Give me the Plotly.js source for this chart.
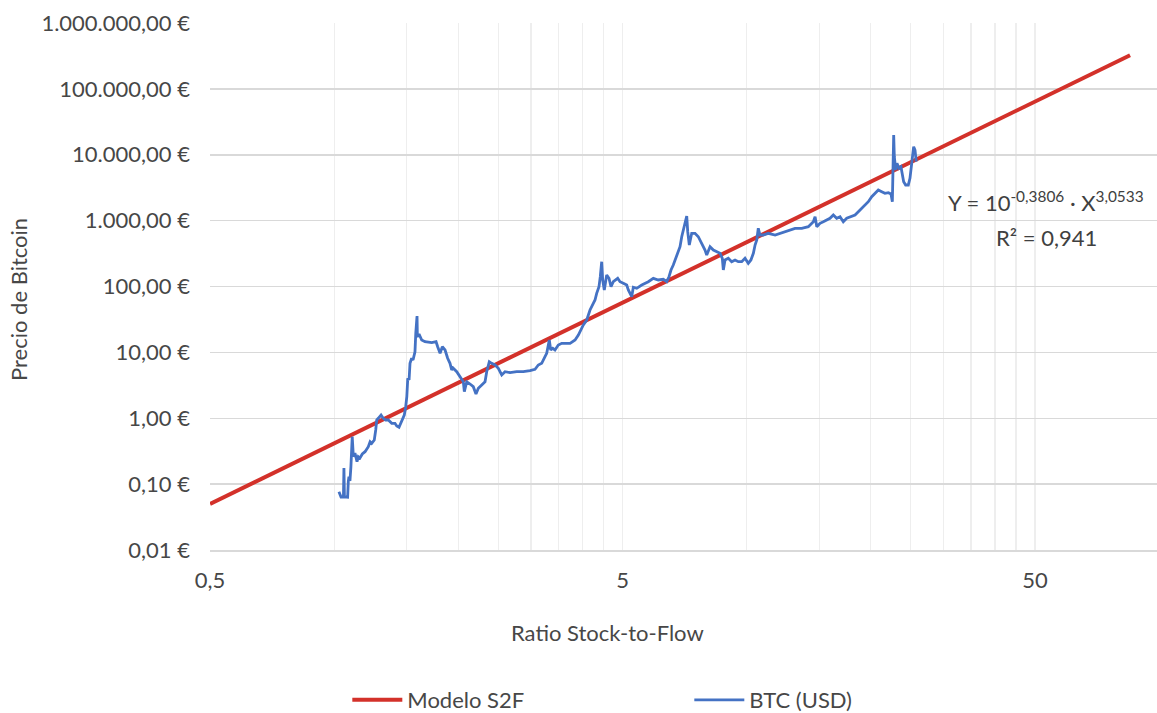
<!DOCTYPE html>
<html>
<head>
<meta charset="utf-8">
<script src="https://cdn.plot.ly/plotly-3.0.1.min.js"></script>
<style>
  html, body { margin: 0; padding: 0; background: #ffffff; }
  #chart { width: 1157px; height: 713px; }
</style>
</head>
<body>
<div id="chart"></div>
<script>
// Stock-to-Flow regression: log10(price) = a + b * log10(S2F)
const modelLogIntercept = -0.3806;
const modelExponent = 3.0533;
const modelS2F = [0.5, 85];

// Historical BTC price (USD) against its Stock-to-Flow ratio
const btcS2F = [
  1.027, 1.039, 1.053, 1.056, 1.059, 1.078, 1.082, 1.086, 1.092, 1.098,
  1.106, 1.113, 1.123, 1.136, 1.144, 1.155, 1.170, 1.188, 1.210, 1.222,
  1.233, 1.251, 1.261, 1.268, 1.279, 1.299, 1.315, 1.333, 1.353, 1.379,
  1.404, 1.418, 1.436, 1.458, 1.479, 1.491, 1.500, 1.508, 1.519, 1.527,
  1.541, 1.553, 1.570, 1.577, 1.582, 1.588, 1.591, 1.606, 1.630, 1.660,
  1.724, 1.766, 1.782, 1.806, 1.829, 1.857, 1.884, 1.909, 1.927, 1.941,
  1.982, 2.019, 2.056, 2.068, 2.096, 2.135, 2.174, 2.207, 2.236, 2.279,
  2.321, 2.343, 2.377, 2.409, 2.455, 2.500, 2.548, 2.595, 2.669, 2.770,
  2.874, 2.984, 3.068, 3.125, 3.185, 3.244, 3.275, 3.323, 3.349, 3.387,
  3.430, 3.494, 3.562, 3.731, 3.837, 3.908, 4.018, 4.095, 4.171, 4.248,
  4.289, 4.329, 4.385, 4.417, 4.452, 4.477, 4.517, 4.578, 4.637, 4.689,
  4.750, 4.868, 4.931, 5.022, 5.119, 5.165, 5.264, 5.311, 5.413, 5.567,
  5.775, 5.938, 6.106, 6.279, 6.400, 6.482, 6.555, 6.639, 6.767, 6.893,
  6.959, 7.021, 7.060, 7.116, 7.156, 7.196, 7.260, 7.358, 7.495, 7.634,
  7.781, 7.925, 8.001, 8.150, 8.302, 8.461, 8.618, 8.729, 8.778, 8.862,
  9.024, 9.197, 9.370, 9.544, 9.727, 9.907, 10.09, 10.24, 10.38, 10.48,
  10.58, 10.67, 10.77, 10.97, 11.28, 11.72, 12.16, 12.62, 13.10, 13.60,
  14.11, 14.51, 14.65, 14.79, 15.06, 15.34, 15.63, 15.92, 16.22, 16.53,
  16.84, 17.15, 17.48, 17.81, 18.31, 18.83, 19.36, 19.72, 20.10, 20.47,
  20.85, 21.25, 21.64, 22.05, 22.38, 22.55, 22.63, 22.72, 22.80, 22.98,
  23.14, 23.40, 23.66, 23.84, 24.02, 24.29, 24.65, 24.88, 25.02, 25.20,
  25.40, 25.59, 25.77
];
const btcPrice = [
  0.0767, 0.0638, 0.0638, 0.1757, 0.0638, 0.0631, 0.1088, 0.1296, 0.1115, 0.1839,
  0.5247, 0.2609, 0.2970, 0.2190, 0.2609, 0.2492, 0.2867, 0.3107, 0.3700, 0.4406,
  0.4166, 0.4675, 0.6634, 0.9407, 0.998, 1.121, 0.998, 0.9407, 0.9407, 0.838,
  0.838, 0.7627, 0.729, 0.8862, 1.121, 1.497, 2.124, 4.042, 3.808, 6.826,
  8.132, 7.661, 10.24, 19.48, 31.0, 35.67, 17.30, 19.01, 15.41, 14.52,
  14.03, 14.52, 12.20, 9.68, 12.20, 10.87, 8.132, 6.826, 5.401, 5.791,
  5.089, 4.273, 3.587, 2.530, 3.587, 3.311, 3.013, 2.334, 2.849, 3.197,
  3.587, 5.089, 7.219, 6.826, 6.434, 5.733, 4.535, 5.089, 4.914, 5.089,
  5.089, 5.270, 5.535, 6.434, 6.826, 8.598, 9.68, 15.41, 10.87, 11.53,
  10.87, 12.94, 13.73, 13.73, 15.41, 18.35, 26.04, 31.0, 43.98, 55.59,
  62.40, 78.86, 99.3, 140.8, 237.9, 125.5, 88.5, 149.5, 133.2, 99.3,
  118.3, 133.2, 118.3, 111.8, 105.4, 88.5, 70.0, 97.3, 93.9, 105.4,
  118.3, 133.2, 125.5, 128.6, 118.3, 140.8, 178.1, 212.1, 283.5, 402.1,
  570.2, 720.6, 858.3, 1022, 1175, 678.9, 426.6, 642.0, 642.0, 570.2,
  452.7, 358.2, 300.8, 402.1, 358.2, 337.6, 319.2, 268.0, 178.1, 252.6,
  268.0, 237.9, 252.6, 237.9, 237.9, 268.0, 225.0, 252.6, 319.2, 426.6,
  508.0, 764.8, 605.0, 605.0, 642.0, 605.0, 655.5, 720.6, 764.8, 764.8,
  808.8, 963.2, 1147, 808.8, 910.7, 963.2, 1022, 1085, 1217, 1085,
  1147, 963.2, 1085, 1147, 1217, 1450, 1727, 1938, 2308, 2599,
  2917, 2749, 2599, 2654, 2536, 1938, 10520, 19950, 9341, 5868,
  7417, 6228, 6585, 5229, 3898, 3474, 3474, 4390, 6228, 9341,
  13260, 11810, 7844
];

// Axis ticks (every gridline position; only decade steps carry a label)
const xTickVals = [0.5, 1, 1.5, 2, 2.5, 3, 3.5, 4, 4.5, 5, 10, 15, 20, 25, 30, 35, 40, 45, 50];
const xTickText = ['0,5', '', '', '', '', '', '', '', '', '5', '', '', '', '', '', '', '', '', '50'];
const yTickVals = [0.01, 0.1, 1, 10, 100, 1000, 10000, 100000, 1000000];
const yTickText = ['0,01 €', '0,10 €', '1,00 €', '10,00 €', '100,00 €', '1.000,00 €',
                   '10.000,00 €', '100.000,00 €', '1.000.000,00 €'];

const modelPrice = modelS2F.map(x => Math.pow(10, modelLogIntercept) * Math.pow(x, modelExponent));

const FONT = 'Lato, "Open Sans", sans-serif';
const TEXT = '#474747';

const traces = [
  {
    x: modelS2F, y: modelPrice, type: 'scatter', mode: 'lines', name: 'Modelo S2F',
    line: { color: '#d3312a', width: 4 }
  },
  {
    x: btcS2F, y: btcPrice, type: 'scatter', mode: 'lines', name: 'BTC (USD)',
    line: { color: '#4472c4', width: 2.8 }
  }
];

const layout = {
  width: 1157, height: 713,
  margin: { l: 210, r: 0, t: 23, b: 163, autoexpand: false },
  paper_bgcolor: '#ffffff', plot_bgcolor: '#ffffff',
  font: { family: FONT, size: 22, color: TEXT },
  showlegend: true,
  legend: {
    orientation: 'h', x: 0.145, y: -0.2846, xanchor: 'left', yanchor: 'middle',
    entrywidth: 277, font: { family: FONT, size: 22, color: TEXT },
    itemwidth: 50
  },
  xaxis: {
    type: 'log', range: [Math.log10(0.5), Math.log10(0.5) + 947 / 412.5],
    tickmode: 'array', tickvals: xTickVals, ticktext: xTickText,
    showgrid: true, gridcolor: '#eeeeee', gridwidth: 1.3,
    showline: true, linecolor: '#d9d9d9', linewidth: 1.5,
    ticks: '', ticklabelstandoff: 10, zeroline: false, automargin: false,
    tickfont: { family: FONT, size: 22, color: TEXT }
  },
  yaxis: {
    type: 'log', range: [-2, 6],
    tickmode: 'array', tickvals: yTickVals, ticktext: yTickText,
    showgrid: true, gridcolor: '#d9d9d9', gridwidth: 1.5,
    showline: false, ticks: '', ticklabelstandoff: 19, zeroline: false, automargin: false,
    tickfont: { family: FONT, size: 22, color: TEXT }
  },
  annotations: [
    {
      xref: 'paper', yref: 'paper', x: (18 - 210) / 947, y: (550 - 300) / 527,
      text: 'Precio de Bitcoin', textangle: -90, showarrow: false,
      xanchor: 'center', yanchor: 'middle', font: { family: FONT, size: 22, color: TEXT }
    },
    {
      xref: 'paper', yref: 'paper', x: (607 - 210) / 947, y: (550 - 632) / 527,
      text: 'Ratio Stock-to-Flow', showarrow: false,
      xanchor: 'center', yanchor: 'middle', font: { family: FONT, size: 22, color: TEXT }
    },
    {
      xref: 'paper', yref: 'paper', x: (1046 - 210) / 947, y: (550 - 201) / 527,
      text: 'Y = 10<sup>-0,3806</sup> · X<sup>3,0533</sup>', showarrow: false,
      xanchor: 'center', yanchor: 'middle', font: { family: FONT, size: 22, color: '#404040' }
    },
    {
      xref: 'paper', yref: 'paper', x: (1046 - 210) / 947, y: (550 - 237) / 527,
      text: 'R² = 0,941', showarrow: false,
      xanchor: 'center', yanchor: 'middle', font: { family: FONT, size: 22, color: '#404040' }
    }
  ]
};

Plotly.newPlot('chart', traces, layout, { staticPlot: true, displayModeBar: false });
</script>
</body>
</html>
